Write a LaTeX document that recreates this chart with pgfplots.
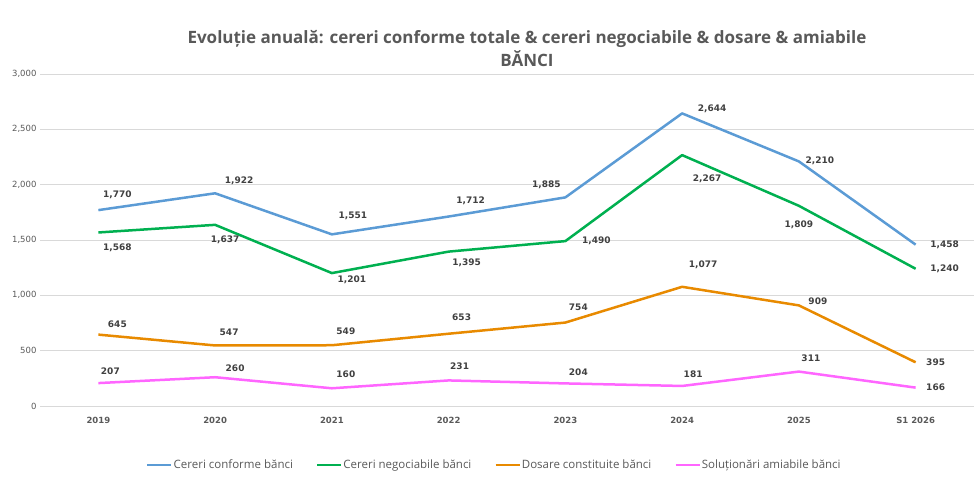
\documentclass[border=0pt]{standalone}
\usepackage{fontspec}
\setmainfont{Open Sans}
\newfontfamily\dv{DejaVu Sans}
\usepackage{pgfplots}
\pgfplotsset{compat=1.18}
\definecolor{cblue}{HTML}{5B9BD5}
\definecolor{cgreen}{HTML}{00B050}
\definecolor{corange}{HTML}{E88A00}
\definecolor{cpink}{HTML}{FF66FF}
\definecolor{txt}{HTML}{595959}
\definecolor{lbl}{HTML}{404040}
\definecolor{gridc}{HTML}{D9D9D9}

\begin{document}
\begin{tikzpicture}[x=1pt,y=1pt]
\path[use as bounding box] (0,0) rectangle (975,497);
\node[font=\bfseries\fontsize{17}{23}\selectfont, text=txt, align=center] at (527,448.5)
  {Evoluție anuală: cereri conforme totale \& cereri negociabile \& dosare \& amiabile\\BĂNCI};
\begin{axis}[
  at={(40pt,91pt)}, anchor=south west,
  scale only axis, width=934pt, height=332pt,
  xmin=-0.5, xmax=7.5, ymin=0, ymax=3000,
  xtick={0,...,7},
  xticklabels={2019,2020,2021,2022,2023,2024,2025,S1 2026},
  ytick={0,500,...,3000},
  xmajorgrids=false, ymajorgrids=true,
  y grid style={draw=gridc, line width=0.8pt},
  axis line style={draw=none}, tick style={draw=none},
  /pgf/number format/.cd, 1000 sep={,}, assume math mode=true,
  /pgfplots/.cd,
  yticklabel style={font=\dv\fontsize{8.5}{10}\selectfont, text=txt},
  xticklabel style={font=\dv\bfseries\fontsize{8.5}{10}\selectfont, text=txt, yshift=-8pt},
  every axis plot/.append style={line width=2.5pt, line join=round, mark=none},
  visualization depends on={\thisrow{dx} \as \dx},
  visualization depends on={\thisrow{dy} \as \dy},
  nodes near coords={\pgfmathprintnumber[1000 sep={,},assume math mode=true]{\pgfplotspointmeta}},
  every node near coord/.append style={font=\dv\bfseries\fontsize{9}{11}\selectfont, text=lbl,
    anchor=center, inner sep=0pt, xshift=\dx pt, yshift=\dy pt},
  legend columns=4,
  legend image code/.code={\draw[#1, line width=2.5pt] (0pt,0pt) -- (24pt,0pt);},
  legend style={at={(0.486,-0.178)}, anchor=center, draw=none, inner sep=0pt,
    font=\fontsize{11.5}{13}\selectfont, text=txt,
    nodes={inner sep=1pt},
    /tikz/every even column/.append style={column sep=22pt}},
]
\addplot[cblue] table {
x y dx dy
0 1770 19 15
1 1922 24 12
2 1551 21 18
3 1712 22 16
4 1885 -19 13
5 2644 30 5
6 2210 21 1
7 1458 29 0
};
\addlegendentry{Cereri conforme bănci}
\addplot[cgreen] table {
x y dx dy
0 1568 19 -15
1 1637 10 -15
2 1201 20 -7
3 1395 18 -11
4 1490 31 0
5 2267 25 -24
6 1809 0 -19
7 1240 29 0
};
\addlegendentry{Cereri negociabile bănci}
\addplot[corange] table {
x y dx dy
0 645 19 10
1 547 14 13
2 549 14 14
3 653 13 17
4 754 13 15
5 1077 21 22
6 909 19 4
7 395 20 0
};
\addlegendentry{Dosare constituite bănci}
\addplot[cpink] table {
x y dx dy
0 207 12 12
1 260 20 9
2 160 14 14
3 231 11 14
4 204 13 11
5 181 11 12
6 311 12 13
7 166 20 0
};
\addlegendentry{Soluționări amiabile bănci}
\end{axis}
\end{tikzpicture}
\end{document}
